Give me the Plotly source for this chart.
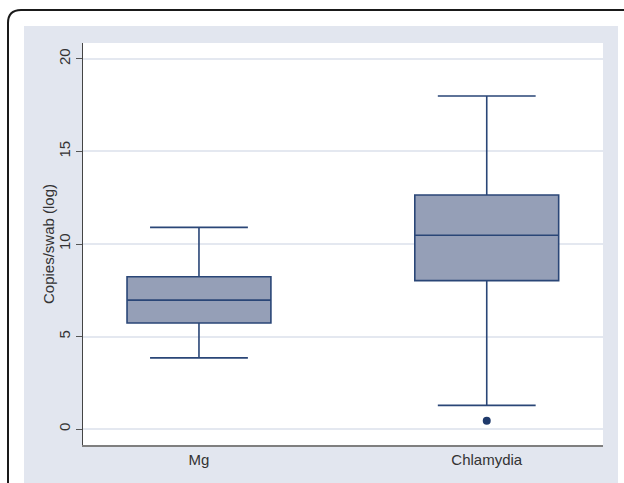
import plotly.graph_objects as go

categories = ["Mg", "Chlamydia"]
lower_whisker = [3.85, 1.28]
q1_vals = [5.73, 8.02]
median_vals = [6.97, 10.47]
q3_vals = [8.23, 12.65]
upper_whisker = [10.9, 18.0]
outlier_cat = ["Chlamydia"]
outlier_vals = [0.45]
y_ticks = [0, 5, 10, 15, 20]

W, H = 624, 483
L, R, T, B = 83, 603, 43, 445

def px(x):
    return (x - L) / (R - L)

def py(y):
    return (B - y) / (B - T)

line_col = "#2a4677"
fill_col = "#959fb7"
bg_col = "#e2e6ef"
font_fam = "Liberation Sans, Arial, sans-serif"

fig = go.Figure()
fig.add_trace(go.Box(
    x=categories, q1=q1_vals, median=median_vals, q3=q3_vals,
    lowerfence=lower_whisker, upperfence=upper_whisker,
    boxpoints=False, width=0.5, whiskerwidth=0.68,
    fillcolor=fill_col, line=dict(color=line_col, width=1.6),
    showlegend=False, hoverinfo="skip",
))
fig.add_trace(go.Scatter(
    x=outlier_cat, y=outlier_vals, mode="markers",
    marker=dict(color="#1f3a6b", size=8), showlegend=False, hoverinfo="skip",
))

r = 13
x0, x1, y0, y1 = 8, 636, 10, 500
path = (f"M {px(x0)},{py(y1)} L {px(x0)},{py(y0 + r)} "
        f"Q {px(x0)},{py(y0)} {px(x0 + r)},{py(y0)} "
        f"L {px(x1 - r)},{py(y0)} Q {px(x1)},{py(y0)} {px(x1)},{py(y0 + r)} "
        f"L {px(x1)},{py(y1)}")

shapes = [
    dict(type="rect", xref="paper", yref="paper", x0=px(24), x1=px(618), y0=py(26), y1=py(520),
         fillcolor=bg_col, line=dict(width=0), layer="below"),
    dict(type="rect", xref="paper", yref="paper", x0=0, x1=1, y0=0, y1=1,
         fillcolor="white", line=dict(width=0), layer="below"),
    dict(type="path", xref="paper", yref="paper", path=path,
         line=dict(color="#1a1a1a", width=2), layer="below"),
]

annotations = [
    dict(text="Copies/swab (log)", xref="paper", yref="paper", x=px(48), y=0.5,
         textangle=-90, showarrow=False, xanchor="center", yanchor="middle",
         font=dict(size=15, color="#333333")),
]

fig.update_layout(
    width=W, height=H,
    margin=dict(l=L, r=W - R, t=T, b=H - B, pad=0),
    paper_bgcolor="white", plot_bgcolor="white",
    font=dict(family=font_fam, size=15, color="#333333"),
    shapes=shapes, annotations=annotations,
    xaxis=dict(
        type="category", range=[-0.403, 1.404], showgrid=False,
        showline=True, linecolor="#7f7f7f", linewidth=2,
        ticks="", tickfont=dict(size=15, color="#333333"), zeroline=False,
    ),
    yaxis=dict(
        range=[-0.86, 20.86], tickvals=y_ticks, ticktext=[str(v) for v in y_ticks],
        tickangle=-90, ticks="outside", ticklen=6, tickcolor="#555555", tickwidth=1,
        showgrid=True, gridcolor="#e4e8f0", gridwidth=1.5,
        showline=True, linecolor="#444444", linewidth=1.2, zeroline=False,
        tickfont=dict(size=15, color="#333333"),
    ),
)

fig.write_html("out.html", config={"displayModeBar": False},
               post_script="document.body.style.margin='0';document.body.style.overflow='hidden';")
